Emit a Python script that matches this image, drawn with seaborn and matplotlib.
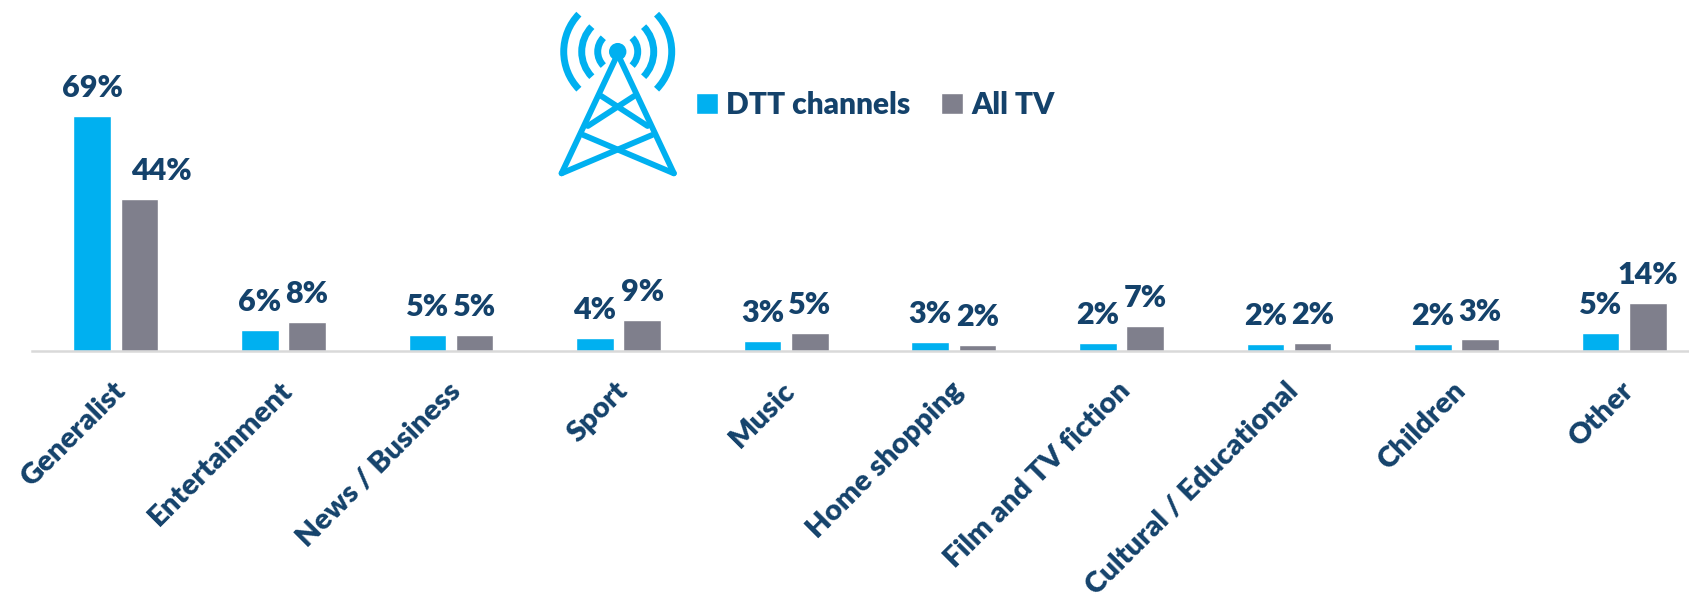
import pandas as pd
import matplotlib.pyplot as plt
import seaborn as sns
from matplotlib.patches import Arc, Circle
from matplotlib.transforms import ScaledTranslation

# chart values
categories = ["Generalist", "Entertainment", "News / Business", "Sport", "Music",
              "Home shopping", "Film and TV fiction", "Cultural / Educational",
              "Children", "Other"]
dtt_values = [69, 6.3, 4.8, 3.9, 2.9, 2.7, 2.4, 2.2, 2.1, 5.2]
all_tv_values = [44.6, 8.5, 4.8, 9.1, 5.2, 1.9, 7.3, 2.4, 3.4, 14.1]
dtt_labels = ["69%", "6%", "5%", "4%", "3%", "3%", "2%", "2%", "2%", "5%"]
all_tv_labels = ["44%", "8%", "5%", "9%", "5%", "2%", "7%", "2%", "3%", "14%"]
series_names = ["DTT channels", "All TV"]

BLUE = "#00b0f0"
GREY = "#7f7f8c"
NAVY = "#14426b"

sns.set_theme(style="white")
plt.rcParams['font.family'] = ['Lato', 'DejaVu Sans']
plt.rcParams['font.weight'] = 'heavy'

data = pd.DataFrame({
    "category": categories * 2,
    "series": [series_names[0]] * 10 + [series_names[1]] * 10,
    "value": dtt_values + all_tv_values,
})

W, H = 1689, 605
fig = plt.figure(figsize=(W / 100, H / 100), dpi=100)
ax = fig.add_axes([32 / W, (H - 351) / H, 1676 / W, 351 / H])

sns.barplot(data=data, x="category", y="value", hue="series", order=categories,
            palette=[BLUE, GREY], width=0.565, gap=0.205, saturation=1, ax=ax)
ax.set_xlim(-0.5, 9.5)
ax.set_ylim(0, 103)
ax.set_xlabel("")
ax.set_ylabel("")
ax.set_yticks([])

for cont, labs in zip(ax.containers, [dtt_labels, all_tv_labels]):
    texts = ax.bar_label(cont, labels=labs, padding=10, fontsize=22, color=NAVY, fontweight='heavy')
    # the 44% label sits to the right of its bar in the reference
    if labs[0] == "44%":
        texts[0].xyann = (16, texts[0].xyann[1])

sns.despine(ax=ax, left=True)
ax.spines['bottom'].set_color("#d9d9d9")
ax.spines['bottom'].set_linewidth(1.8)
ax.tick_params(axis='x', length=0, pad=19)
plt.setp(ax.get_xticklabels(), rotation=45, ha='right', rotation_mode='anchor',
         fontsize=21.2, color=NAVY, fontweight='heavy')
shift = ScaledTranslation(-3 / 72, 0, fig.dpi_scale_trans)
for lab in ax.get_xticklabels():
    lab.set_transform(lab.get_transform() + shift)

ax.legend(loc='center left', bbox_to_anchor=(696 / W, (H - 105) / H),
          bbox_transform=fig.transFigure, ncol=2, frameon=False,
          fontsize=21.5, labelcolor=NAVY, handlelength=0.72, handleheight=0.72,
          handletextpad=0.3, columnspacing=1.02, borderpad=0, borderaxespad=0)

# antenna icon, in figure pixels
icon = fig.add_axes([0, 0, 1, 1])
icon.set_xlim(0, W)
icon.set_ylim(H, 0)
icon.axis('off')
icon.patch.set_alpha(0)

def zx(v):
    return 530 + v / 2.85

def zy(v):
    return v / 3

tower = [((243, 178), (90, 520)), ((257, 178), (410, 520)),
         ((90, 520), (348, 405)), ((410, 520), (152, 405)),
         ((165, 378), (297, 288)), ((335, 378), (203, 288))]
for (x0, y0), (x1, y1) in tower:
    icon.plot([zx(x0), zx(x1)], [zy(y0), zy(y1)], color=BLUE, lw=4.2,
              solid_capstyle='round')

cx, cy = zx(250), zy(155)
icon.add_patch(Circle((cx, cy), 8, color=BLUE))
for r in [20, 36, 54]:
    for mid in [0, 180]:
        icon.add_patch(Arc((cx, cy), 2 * r, 2 * r, theta1=mid - 44, theta2=mid + 44,
                           color=BLUE, lw=5, capstyle='butt'))

fig.savefig("out.png", dpi=100)
